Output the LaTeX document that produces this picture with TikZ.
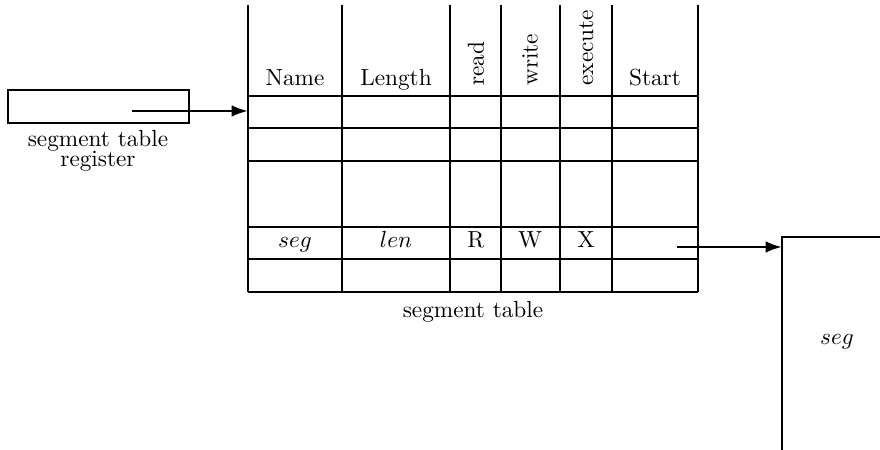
\documentclass[tikz,border=0pt]{standalone}
\usepackage{amsmath}
\usetikzlibrary{arrows.meta}

\begin{document}
\begin{tikzpicture}[x=0.0151cm, y=-0.0151cm,
    rule/.style={line width=0.75pt},
    bold/.style={line width=1.1pt},
    ptr/.style={line width=1.1pt, -{Latex[length=7pt, width=5pt]}},
    vlabel/.style={rotate=90, anchor=west, inner sep=0pt}]
    \useasboundingbox (0,0) rectangle (880,450);

    % register
    \coordinate (RegNW) at (8, 90);
    \coordinate (RegSE) at (189, 123);
    \coordinate (RegPtr) at (132, 111);
    \coordinate (TabIn) at (248, 111);

    % table corners
    \coordinate (TabNW) at (248, 5);
    \coordinate (TabSE) at (698, 292);

    % start pointer and segment
    \coordinate (StartPtr) at (677, 247);
    \coordinate (SegIn) at (782, 247);
    \coordinate (SegTop) at (782, 237);
    \coordinate (SegTopr) at (880, 237);
    \coordinate (SegBot) at (782, 450);

    \draw[line width=0.95pt] (RegNW) rectangle (RegSE);
    \node[align=center] (RegLabel) at (98, 151) {segment table\\[-3.5pt]register};

    % columns
    \foreach \x in {248, 342, 450, 501, 560, 612, 698}
      \draw[bold] (\x, 5) -- (\x, 292);
    % rows
    \foreach \y in {96, 128, 161, 292}
      \draw[rule] (248, \y) -- (698, \y);
    \foreach \y in {227, 259}
      \draw[bold] (248, \y) -- (698, \y);

    \node[anchor=base] (hName) at (295, 86) {Name};
    \node[anchor=base] (hLength) at (396, 86) {Length};
    \node[vlabel] (hRead) at (476, 86) {read};
    \node[vlabel] (hWrite) at (530, 86) {write};
    \node[vlabel] (hExec) at (586, 86) {execute};
    \node[anchor=base] (hStart) at (655, 86) {Start};

    \node[anchor=base] (cSeg) at (295, 248) {$seg$};
    \node[anchor=base] (cLen) at (396, 248) {$len$};
    \node[anchor=base] (cR) at (476, 248) {R};
    \node[anchor=base] (cW) at (530, 248) {W};
    \node[anchor=base] (cX) at (586, 248) {X};

    \node (TabLabel) at (473, 312) {segment table};

    \draw[bold] (SegBot) -- (SegTop) -- (SegTopr);
    \node (SegLabel) at (837, 342) {$seg$};

    \draw[ptr] (RegPtr) -- (TabIn);
    \draw[ptr] (StartPtr) -- (SegIn);

\end{tikzpicture}
\end{document}
